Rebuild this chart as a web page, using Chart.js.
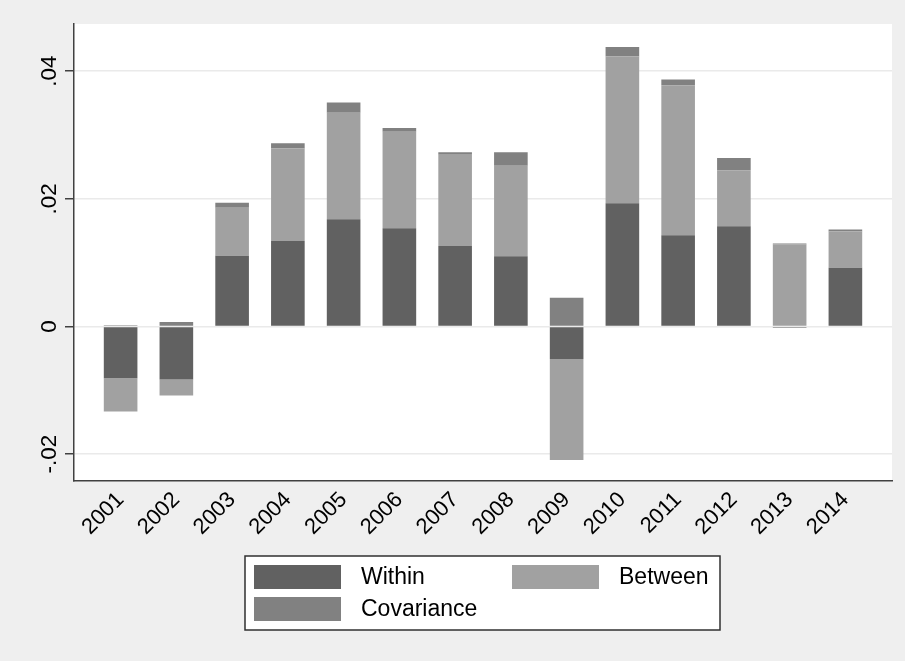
<!DOCTYPE html>
<html>
<head>
  <title>Within / Between / Covariance</title>
  <meta charset="UTF-8">
  <script src="https://cdn.jsdelivr.net/npm/chart.js"></script>
  <style>
    body {
      margin: 0;
      padding: 0;
      background-color: #efefef;
    }
    #wrap {
      width: 905px;
      height: 661px;
    }
  </style>
</head>
<body>
  <div id="wrap">
    <canvas id="decompChart" width="905" height="661"></canvas>
  </div>

  <script>
    // Values
    const years = [2001, 2002, 2003, 2004, 2005, 2006, 2007, 2008, 2009, 2010, 2011, 2012, 2013, 2014];
    const within = [-0.0081, -0.0083, 0.0111, 0.0134, 0.0168, 0.0154, 0.0126, 0.0110, -0.0051, 0.0193, 0.0143, 0.0157, -0.0002, 0.0092];
    const between = [-0.0052, -0.0025, 0.0075, 0.0145, 0.0167, 0.0151, 0.0143, 0.0142, -0.0158, 0.0230, 0.0235, 0.0088, 0.0129, 0.0057];
    const covariance = [0.0002, 0.0007, 0.0008, 0.0008, 0.0016, 0.0006, 0.0004, 0.0021, 0.0045, 0.0015, 0.0009, 0.0019, 0.0001, 0.0003];
    const yTicks = [-0.02, 0, 0.02, 0.04];
    const yTickLabels = ['-.02', '0', '.02', '.04'];

    const FONT = '"Liberation Sans", Arial, sans-serif';

    const toPoints = arr => arr.map((v, i) => ({ x: years[i], y: v }));

    // grey page + white plot region, like Stata's s2 scheme
    const backgroundPlugin = {
      id: 'stataBackground',
      beforeDraw(chart) {
        const { ctx, chartArea } = chart;
        ctx.save();
        ctx.fillStyle = '#efefef';
        ctx.fillRect(0, 0, chart.width, chart.height);
        ctx.fillStyle = '#ffffff';
        ctx.fillRect(chartArea.left, chartArea.top, chartArea.right - chartArea.left, chartArea.bottom - chartArea.top);
        ctx.restore();
      }
    };

    // boxed two-column legend under the plot
    const boxLegendPlugin = {
      id: 'boxLegend',
      afterDraw(chart) {
        const { ctx } = chart;
        const sets = chart.data.datasets;
        const box = { x: 245, y: 556, w: 475, h: 74 };
        const cols = [254, 512];
        const rows = [565, 597];
        ctx.save();
        ctx.fillStyle = '#ffffff';
        ctx.fillRect(box.x, box.y, box.w, box.h);
        ctx.strokeStyle = '#303030';
        ctx.lineWidth = 1.5;
        ctx.strokeRect(box.x, box.y, box.w, box.h);
        ctx.font = '23px ' + FONT;
        ctx.textBaseline = 'middle';
        ctx.textAlign = 'left';
        sets.forEach((ds, i) => {
          const cx = cols[i % 2];
          const cy = rows[Math.floor(i / 2)];
          ctx.fillStyle = ds.backgroundColor;
          ctx.fillRect(cx, cy, 87, 24);
          ctx.fillStyle = '#000000';
          ctx.fillText(ds.label, cx + 107, cy + 13);
        });
        ctx.restore();
      }
    };

    const ctx = document.getElementById('decompChart').getContext('2d');
    new Chart(ctx, {
      type: 'bar',
      data: {
        datasets: [
          {
            label: 'Within',
            data: toPoints(within),
            backgroundColor: '#616161'
          },
          {
            label: 'Between',
            data: toPoints(between),
            backgroundColor: '#a1a1a1'
          },
          {
            label: 'Covariance',
            data: toPoints(covariance),
            backgroundColor: '#818181'
          }
        ]
      },
      options: {
        responsive: false,
        animation: false,
        categoryPercentage: 1,
        barPercentage: 0.603,
        layout: {
          padding: { top: 24, right: 13, left: 0, bottom: 0 }
        },
        scales: {
          x: {
            type: 'linear',
            stacked: true,
            min: 2000.164,
            max: 2014.836,
            offset: false,
            afterBuildTicks: scale => {
              scale.ticks = years.map(v => ({ value: v }));
            },
            afterFit: scale => {
              scale.height = 180;
            },
            grid: { display: false, drawTicks: false },
            border: { display: true, color: '#404040', width: 1.5 },
            ticks: {
              minRotation: 45,
              maxRotation: 45,
              autoSkip: false,
              padding: 6,
              color: '#000000',
              font: { family: FONT, size: 22 },
              callback: value => String(value)
            }
          },
          y: {
            stacked: true,
            min: -0.0242,
            max: 0.0474,
            afterBuildTicks: scale => {
              scale.ticks = yTicks.map(v => ({ value: v }));
            },
            afterFit: scale => {
              scale.width = 74;
            },
            grid: {
              color: '#eaeaea',
              lineWidth: 1.5,
              drawTicks: true,
              tickLength: 9,
              tickColor: '#404040',
              tickWidth: 1.5
            },
            border: { display: true, color: '#404040', width: 1.5 },
            ticks: {
              minRotation: 90,
              maxRotation: 90,
              crossAlign: 'center',
              padding: -4,
              color: '#000000',
              font: { family: FONT, size: 22.5 },
              callback: (value, index) => yTickLabels[index]
            }
          }
        },
        plugins: {
          legend: { display: false },
          tooltip: { enabled: false }
        }
      },
      plugins: [backgroundPlugin, boxLegendPlugin]
    });
  </script>
</body>
</html>
